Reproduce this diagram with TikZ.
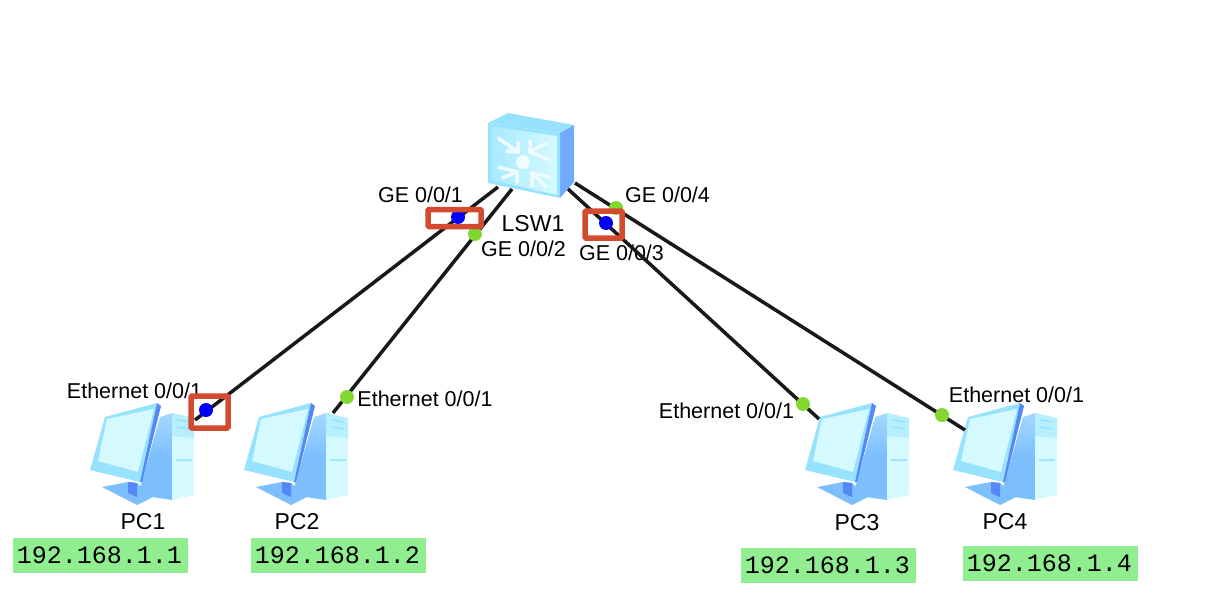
\documentclass[tikz,border=0pt]{standalone}
\usepackage{fontspec}
\setmainfont{Liberation Sans}
\setmonofont{Liberation Mono}
\definecolor{iconpale}{RGB}{212,250,255}
\definecolor{iconsky}{RGB}{150,226,255}
\definecolor{iconblue}{RGB}{125,190,255}
\definecolor{icondeep}{RGB}{85,135,245}
\definecolor{portgreen}{RGB}{130,215,50}
\definecolor{ipgreen}{RGB}{144,238,144}
\definecolor{markred}{RGB}{210,74,48}
\tikzset{
  link/.style={line width=3.5pt, black!90},
  greendot/.style={circle, fill=portgreen, inner sep=0pt, minimum size=14pt},
  bluedot/.style={circle, fill=blue, inner sep=0pt, minimum size=14pt},
  portlabel/.style={font=\fontsize{21.5}{24}\selectfont, inner sep=0pt},
  devlabel/.style={font=\fontsize{23}{26}\selectfont, inner sep=0pt},
  iplabel/.style={fill=ipgreen, font=\ttfamily\fontsize{25}{28}\selectfont, minimum width=175pt, minimum height=35pt, inner sep=0pt},
  markbox/.style={draw=markred, line width=5.5pt, rounded corners=1pt},
  pcicon/.pic={
    % tower
    \shade[top color=iconblue!55!iconpale, bottom color=iconblue, middle color=iconblue]
      (48,95) -- (70,17) -- (82,13) -- (82,100) -- cycle;
    \fill[iconpale] (82,13) -- (104,18) -- (104,95) -- (82,100) -- cycle;
    \fill[iconsky!45!iconpale] (82,13) -- (104,18) -- (104,38) -- (82,36) -- cycle;
    \draw[iconsky, line width=1.5pt] (87,20) -- (100,22) (87,27) -- (100,29) (86,60) -- (102,60);
    % base
    \fill[iconblue] (12,87) -- (38,82) -- (47,83) -- (63,97) -- (47,105) -- cycle;
    \fill[icondeep] (38,82) -- (47,83) -- (47,97) -- (38,93) -- cycle;
    % monitor
    \fill[iconsky] (15,17) -- (67,3) -- (50,82) -- (0,70) -- cycle;
    \fill[iconpale] (17,19) -- (64,9) -- (48,72) -- (8,61) -- cycle;
    \fill[icondeep] (67,3) -- (71,6) -- (52,82) -- (50,82) -- cycle;
  },
  switchicon/.pic={
    \fill[iconsky] (0,10) -- (20,0) -- (86,12) -- (72,20) -- cycle;
    \fill[iconblue!90!blue] (72,20) -- (86,12) -- (86,69) -- (72,85) -- cycle;
    \fill[iconsky] (0,10) -- (72,20) -- (72,85) -- (0,70) -- cycle;
    \shade[left color=iconsky!70!iconpale, right color=iconpale] (3,13) -- (69,23) -- (69,82) -- (3,67) -- cycle;
    % arrows to the centre
    \fill[white!85!iconsky] (35,49) circle (7);
    \draw[white!85!iconsky, line width=3.5pt]
      (30,28) -- (30,39) -- (18,38) (10,25) -- (30,39)
      (42,27) -- (42,39) -- (62,47) (59,30) -- (42,39)
      (10,54) -- (29,59) -- (29,70) (14,65) -- (29,59)
      (44,74) -- (44,60) -- (62,64) (59,75) -- (44,60);
  }
}
\begin{document}
\begin{tikzpicture}[x=1pt, y=-1pt]
\useasboundingbox (0,0) rectangle (1208,616);

% Switch
\pic at (488,113) {switchicon};
\node[devlabel] (lsw) at (533,224) {LSW1};

% PCs
\pic at (90,400) {pcicon};
\pic at (244,400) {pcicon};
\pic at (805,400) {pcicon};
\pic at (953,400) {pcicon};
\node[devlabel] (pca) at (143,522) {PC1};
\node[devlabel] (pcb) at (297,522) {PC2};
\node[devlabel] (pcc) at (857,523) {PC3};
\node[devlabel] (pcd) at (1005,522) {PC4};

% IP addresses
\node[iplabel] (ipa) at (100.5,555) {\hspace*{-2pt}192.168.1.1};
\node[iplabel] (ipb) at (338.5,555) {\hspace*{-2pt}192.168.1.2};
\node[iplabel] (ipc) at (828.5,565.5) {\hspace*{-2pt}192.168.1.3};
\node[iplabel] (ipd) at (1050.5,563.5) {\hspace*{-2pt}192.168.1.4};

% Port labels
\node[portlabel] (gea) at (420.5,195) {GE 0/0/1};
\node[portlabel] (geb) at (523.5,249) {GE 0/0/2};
\node[portlabel] (gec) at (621.5,253) {GE 0/0/3};
\node[portlabel] (ged) at (667.5,195) {GE 0/0/4};
\node[portlabel] (etha) at (134.5,391) {Ethernet 0/0/1};
\node[portlabel] (ethb) at (425,399) {Ethernet 0/0/1};
\node[portlabel] (ethc) at (726.5,411) {Ethernet 0/0/1};
\node[portlabel] (ethd) at (1016.5,395) {Ethernet 0/0/1};

% Links
\coordinate (swa) at (498,187);
\coordinate (swb) at (512,189);
\coordinate (swc) at (568,189);
\coordinate (swd) at (575,183);
\coordinate (enda) at (195,420);
\coordinate (endb) at (333,413);
\coordinate (endc) at (819,419);
\coordinate (endd) at (965,430);
\draw[link] (swa) -- (enda);
\draw[link] (swb) -- (endb);
\draw[link] (swc) -- (endc);
\draw[link] (swd) -- (endd);

% Port dots
\node[greendot] (dotb) at (475,234) {};
\node[greendot] (dotd) at (616,208) {};
\node[greendot] (dotf) at (347,397) {};
\node[greendot] (dotg) at (803,404) {};
\node[greendot] (doth) at (942,415) {};
\node[bluedot] (dota) at (458,217) {};
\node[bluedot] (dotc) at (606,223) {};
\node[bluedot] (dote) at (206,410) {};

% Red marks
\draw[markbox] (428,209.5) rectangle (481,226.5);
\draw[markbox] (585,211) rectangle (622,238);
\draw[markbox] (191,396) rectangle (228,428);
\end{tikzpicture}
\end{document}
